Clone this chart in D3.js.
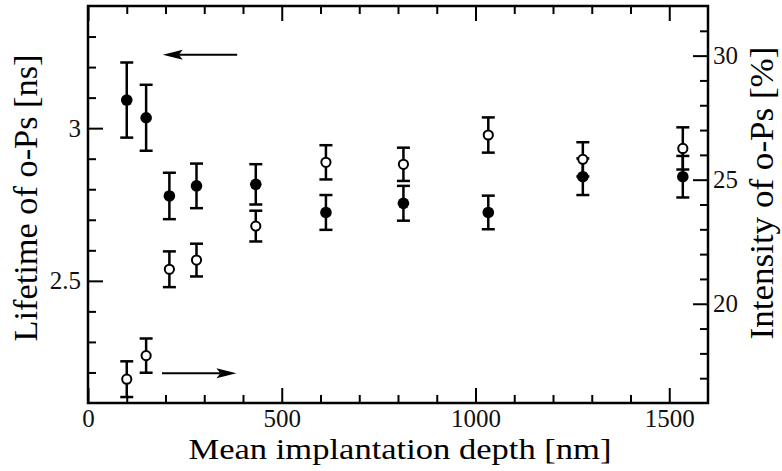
<!DOCTYPE html>
<html>
<head>
<meta charset="utf-8">
<script src="https://cdn.jsdelivr.net/npm/d3@7"></script>
<style>
  body { margin: 0; background: #fff; }
</style>
</head>
<body>
<div class="chart"></div>
<script>
// depth of the positron beam (nm)
const depth = [100, 150, 210, 280, 433, 614, 814, 1033, 1277, 1535];
// o-Ps lifetime (ns), left axis, filled markers
const lifetime = [3.092, 3.034, 2.778, 2.811, 2.816, 2.724, 2.754, 2.724, 2.841, 2.841];
const lifetimeErr = [0.123, 0.108, 0.076, 0.073, 0.066, 0.057, 0.057, 0.055, 0.06, 0.068];
// o-Ps intensity (%), right axis, open markers
const intensity = [16.96, 17.91, 21.39, 21.76, 23.13, 25.70, 25.62, 26.80, 25.82, 26.26];
const intensityErr = [0.72, 0.69, 0.72, 0.66, 0.62, 0.69, 0.67, 0.71, 0.69, 0.85];

// tick values
const xMajor = [0, 500, 1000, 1500];
const xMinor = [100, 200, 300, 400, 600, 700, 800, 900, 1100, 1200, 1300, 1400];
const leftMajor = [2.5, 3];
const leftMinor = [2.2, 2.3, 2.4, 2.6, 2.7, 2.8, 2.9, 3.1, 3.2, 3.3];
const rightMajor = [20, 25, 30];
const rightMinor = [17, 18, 19, 21, 22, 23, 24, 26, 27, 28, 29, 31];

const serif = "'Liberation Serif', 'Times New Roman', Times, serif";
const width = 782;
const height = 471;
const plotLeft = 88, plotRight = 708, plotTop = 6, plotBottom = 403;

const svg = d3.select(".chart")
    .append("svg")
    .attr("width", width)
    .attr("height", height);

const x = d3.scaleLinear().domain([0, 1600]).range([plotLeft, plotRight]);
const yL = d3.scaleLinear().domain([2.1, 3.4]).range([plotBottom, plotTop]);
const yR = d3.scaleLinear().domain([16, 32]).range([plotBottom, plotTop]);

// axes: ticks point inward, labels outside
function styleAxis(g) {
    g.attr("font-family", null).attr("font-size", null);
    g.select(".domain").remove();
    g.selectAll(".tick line").attr("stroke", "#000").attr("stroke-width", 2);
    g.selectAll(".tick text")
        .attr("fill", "#111")
        .style("font-size", "25px")
        .style("font-family", serif);
}

svg.append("g").attr("transform", `translate(0,${plotBottom})`)
    .call(d3.axisBottom(x).tickValues(xMajor).tickSize(-15).tickPadding(6).tickFormat(d => d))
    .call(styleAxis);
svg.append("g").attr("transform", `translate(0,${plotBottom})`)
    .call(d3.axisBottom(x).tickValues(xMinor).tickSize(-8).tickFormat(""))
    .call(styleAxis);
svg.append("g").attr("transform", `translate(0,${plotTop})`)
    .call(d3.axisTop(x).tickValues(xMajor).tickSize(-15).tickFormat(""))
    .call(styleAxis);
svg.append("g").attr("transform", `translate(0,${plotTop})`)
    .call(d3.axisTop(x).tickValues(xMinor).tickSize(-8).tickFormat(""))
    .call(styleAxis);

svg.append("g").attr("transform", `translate(${plotLeft},0)`)
    .call(d3.axisLeft(yL).tickValues(leftMajor).tickSize(-15).tickPadding(7).tickFormat(d => d))
    .call(styleAxis);
svg.append("g").attr("transform", `translate(${plotLeft},0)`)
    .call(d3.axisLeft(yL).tickValues(leftMinor).tickSize(-8).tickFormat(""))
    .call(styleAxis);

svg.append("g").attr("transform", `translate(${plotRight},0)`)
    .call(d3.axisRight(yR).tickValues(rightMajor).tickSize(-15).tickPadding(5).tickFormat(d => d))
    .call(styleAxis);
svg.append("g").attr("transform", `translate(${plotRight},0)`)
    .call(d3.axisRight(yR).tickValues(rightMinor).tickSize(-8).tickFormat(""))
    .call(styleAxis);

// frame
svg.append("rect")
    .attr("x", plotLeft).attr("y", plotTop)
    .attr("width", plotRight - plotLeft).attr("height", plotBottom - plotTop)
    .attr("fill", "none")
    .attr("stroke", "#000")
    .attr("stroke-width", 2.5);

// error bars
const cap = 6.5;
function errorBars(values, errs, y) {
    const g = svg.append("g")
        .attr("stroke", "#000")
        .attr("stroke-width", 2.5)
        .attr("fill", "none");
    depth.forEach((d, i) => {
        const cx = x(d);
        const y1 = y(values[i] + errs[i]);
        const y2 = y(values[i] - errs[i]);
        g.append("line").attr("x1", cx).attr("x2", cx).attr("y1", y1).attr("y2", y2);
        g.append("line").attr("x1", cx - cap).attr("x2", cx + cap).attr("y1", y1).attr("y2", y1);
        g.append("line").attr("x1", cx - cap).attr("x2", cx + cap).attr("y1", y2).attr("y2", y2);
    });
}
errorBars(lifetime, lifetimeErr, yL);
errorBars(intensity, intensityErr, yR);

// filled markers = lifetime
svg.selectAll(".life-dot")
    .data(depth)
    .enter()
    .append("circle")
    .attr("class", "life-dot")
    .attr("cx", d => x(d))
    .attr("cy", (d, i) => yL(lifetime[i]))
    .attr("r", 5.8)
    .attr("fill", "#000");

// open markers = intensity
svg.selectAll(".int-dot")
    .data(depth)
    .enter()
    .append("circle")
    .attr("class", "int-dot")
    .attr("cx", d => x(d))
    .attr("cy", (d, i) => yR(intensity[i]))
    .attr("r", 4.6)
    .attr("fill", "#fff")
    .attr("stroke", "#000")
    .attr("stroke-width", 2);

// arrows telling which axis a series belongs to
function arrow(x1, x2, yPix) {
    const dir = Math.sign(x2 - x1);
    const headLen = 20, headHalf = 5;
    svg.append("line")
        .attr("x1", x1).attr("x2", x2 - dir * headLen * 0.8)
        .attr("y1", yPix).attr("y2", yPix)
        .attr("stroke", "#000").attr("stroke-width", 2);
    svg.append("path")
        .attr("d", `M${x2},${yPix} L${x2 - dir * headLen},${yPix - headHalf} L${x2 - dir * headLen * 0.8},${yPix} L${x2 - dir * headLen},${yPix + headHalf} Z`)
        .attr("fill", "#000");
}
arrow(x(385), x(193), yL(3.24));
arrow(x(191), x(383), yR(17.2));

// axis titles
svg.append("text")
    .attr("x", 400).attr("y", 459)
    .attr("text-anchor", "middle")
    .style("font-family", serif)
    .style("font-size", "30px")
    .attr("textLength", 423)
    .attr("lengthAdjust", "spacingAndGlyphs")
    .text("Mean implantation depth [nm]");

svg.append("text")
    .attr("transform", "translate(37,198) rotate(-90)")
    .attr("text-anchor", "middle")
    .style("font-family", serif)
    .style("font-size", "33px")
    .attr("textLength", 287)
    .attr("lengthAdjust", "spacingAndGlyphs")
    .text("Lifetime of o-Ps [ns]");

svg.append("text")
    .attr("transform", "translate(773,193) rotate(-90)")
    .attr("text-anchor", "middle")
    .style("font-family", serif)
    .style("font-size", "33px")
    .attr("textLength", 293)
    .attr("lengthAdjust", "spacingAndGlyphs")
    .text("Intensity of o-Ps [%]");
</script>
</body>
</html>
